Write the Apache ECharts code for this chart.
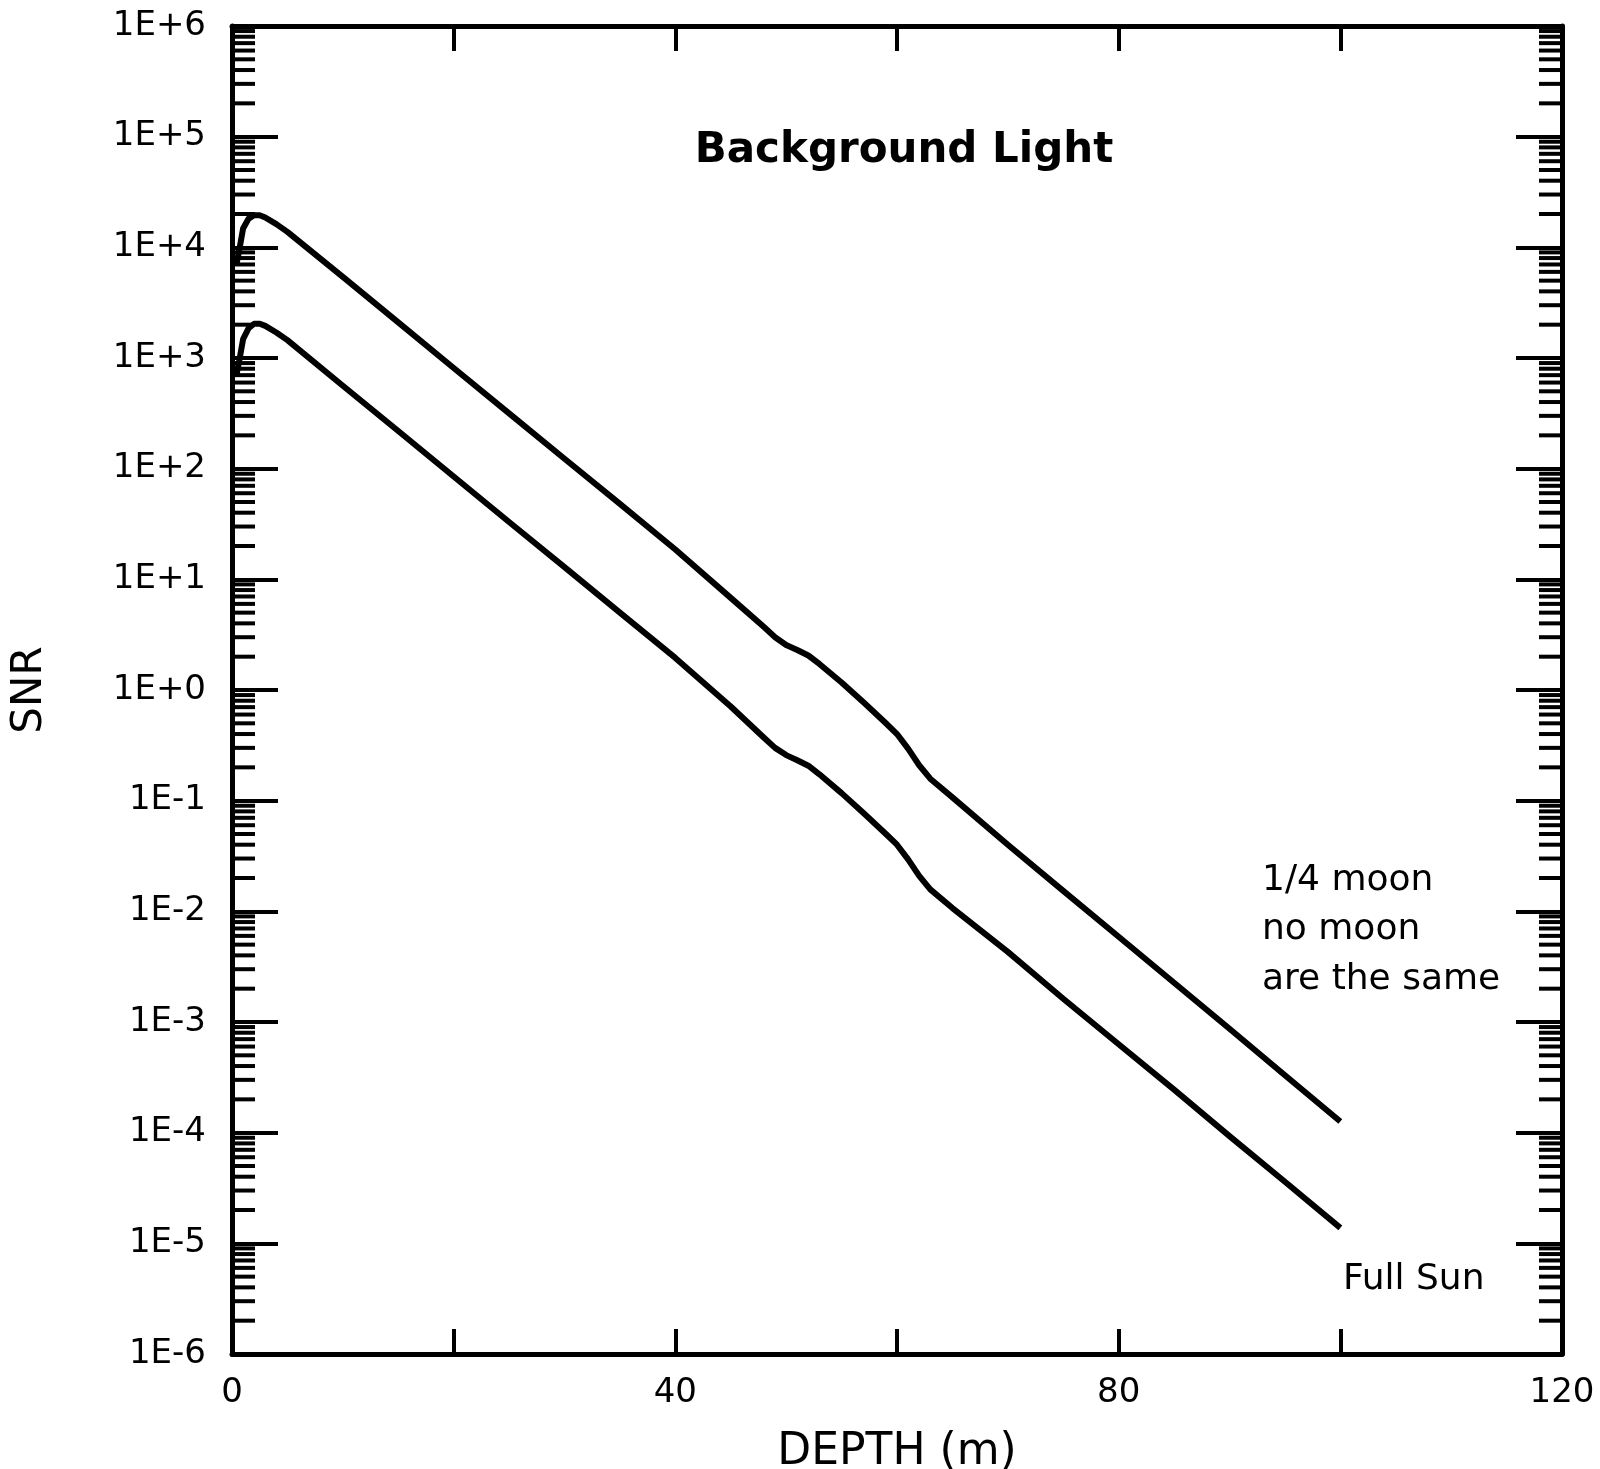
<!DOCTYPE html>
<html>
<head>
<meta charset="utf-8">
<title>Background Light</title>
<script src="https://cdn.jsdelivr.net/npm/echarts@6/dist/echarts.min.js"></script>
<style>
  html, body { margin: 0; padding: 0; background: #fff; }
  #chart { width: 1600px; height: 1469px; }
</style>
</head>
<body>
<div id="chart"></div>
<script>
// Depth samples (m) for both curves
const depth = [0.4, 0.7, 1, 1.5, 2, 2.5, 3, 4, 5, 10, 15, 20, 25, 30, 35, 40, 45, 48, 49, 50,
  51, 52, 53, 55, 57, 59, 60, 61, 62, 63, 65, 70, 75, 80, 85, 90, 95, 100];

// SNR with 1/4 moon or no moon (both identical)
const snrMoon = [7.0e3, 1.0e4, 1.48e4, 1.82e4, 1.95e4, 1.95e4, 1.86e4, 1.62e4, 1.38e4, 5.4e3,
  2.1e3, 813, 316, 123, 48, 18.6, 6.8, 3.7, 3.0, 2.55,
  2.3, 2.05, 1.72, 1.17, 0.77, 0.50, 0.40, 0.295, 0.209, 0.158, 0.107,
  0.040, 0.0153, 5.9e-3, 2.26e-3, 8.7e-4, 3.3e-4, 1.26e-4];

// SNR in full sun
const snrSun = [700, 1000, 1480, 1860, 2040, 2040, 1950, 1700, 1450, 562,
  219, 85, 33, 12.9, 5.0, 1.95, 0.71, 0.37, 0.30, 0.258,
  0.232, 0.207, 0.173, 0.117, 0.077, 0.050, 0.040, 0.0295, 0.0209, 0.0158, 0.0107,
  4.3e-3, 1.62e-3, 6.3e-4, 2.45e-4, 9.3e-5, 3.6e-5, 1.38e-5];

// Axis ranges and tick labels
const X_MIN = 0, X_MAX = 120, X_STEP = 20;
const X_LABELED = [0, 40, 80, 120];
const Y_MIN = 1e-6, Y_MAX = 1e6;
const Y_EXPONENTS = [-6, -5, -4, -3, -2, -1, 0, 1, 2, 3, 4, 5, 6];
const Y_TICK_LABELS = ['1E-6', '1E-5', '1E-4', '1E-3', '1E-2', '1E-1', '1E+0',
  '1E+1', '1E+2', '1E+3', '1E+4', '1E+5', '1E+6'];
const MINOR_MULTIPLES = [2, 3, 4, 5, 6, 7, 8, 9];

// Minor log ticks inside every decade
const minorTicks = [];
Y_EXPONENTS.slice(0, -1).forEach(function (e) {
  MINOR_MULTIPLES.forEach(function (m) { minorTicks.push([0, m * Math.pow(10, e)]); });
});

const FONT = '"DejaVu Sans", "Liberation Sans", sans-serif';
const MAJOR_LEN = 46, MINOR_LEN = 23, X_TICK_LEN = 25;

function pairs(xs, ys) { return xs.map(function (x, i) { return [x, ys[i]]; }); }

function yLabel(value) {
  const e = Math.round(Math.log10(value));
  const i = Y_EXPONENTS.indexOf(e);
  return i >= 0 ? Y_TICK_LABELS[i] : '';
}

const chart = echarts.init(document.getElementById('chart'), null, { renderer: 'canvas' });

const baseX = {
  type: 'value', min: X_MIN, max: X_MAX, interval: X_STEP,
  splitLine: { show: false },
  axisLine: { onZero: false, lineStyle: { color: '#000', width: 5 } }
};
const baseY = {
  type: 'log', logBase: 10, min: Y_MIN, max: Y_MAX, interval: 1,
  splitLine: { show: false }, minorTick: { show: false },
  axisLine: { onZero: false, lineStyle: { color: '#000', width: 5 } }
};

chart.setOption({
  animation: false,
  backgroundColor: '#fff',
  grid: { left: 232, right: 38, top: 26, bottom: 115, containLabel: false, outerBoundsMode: 'none' },
  xAxis: [
    Object.assign({}, baseX, {
      position: 'bottom',
      name: 'DEPTH (m)', nameLocation: 'middle', nameGap: 77,
      nameTextStyle: { fontFamily: FONT, fontSize: 44, color: '#000' },
      axisTick: { inside: true, length: X_TICK_LEN, lineStyle: { color: '#000', width: 4 } },
      axisLabel: {
        margin: 22, fontFamily: FONT, fontSize: 34, color: '#000',
        formatter: function (v) { return X_LABELED.indexOf(v) >= 0 ? String(v) : ''; }
      }
    }),
    Object.assign({}, baseX, {
      position: 'top',
      axisTick: { inside: true, length: X_TICK_LEN, lineStyle: { color: '#000', width: 4 } },
      axisLabel: { show: false }
    })
  ],
  yAxis: [
    Object.assign({}, baseY, {
      position: 'left',
      name: 'SNR', nameLocation: 'middle', nameGap: 181, nameRotate: 90,
      nameTextStyle: { fontFamily: FONT, fontSize: 42, color: '#000' },
      axisTick: { inside: true, length: MAJOR_LEN, lineStyle: { color: '#000', width: 4 } },
      axisLabel: { margin: 26, fontFamily: FONT, fontSize: 34, color: '#000', formatter: yLabel }
    }),
    Object.assign({}, baseY, {
      position: 'right',
      axisTick: { inside: true, length: MAJOR_LEN, lineStyle: { color: '#000', width: 4 } },
      axisLabel: { show: false }
    })
  ],
  series: [
    {
      name: '1/4 moon, no moon', type: 'line', xAxisIndex: 0, yAxisIndex: 0,
      data: pairs(depth, snrMoon), showSymbol: false, smooth: false,
      lineStyle: { color: '#000', width: 6, cap: 'butt', join: 'round' }, z: 3
    },
    {
      name: 'Full Sun', type: 'line', xAxisIndex: 0, yAxisIndex: 0,
      data: pairs(depth, snrSun), showSymbol: false, smooth: false,
      lineStyle: { color: '#000', width: 6, cap: 'butt', join: 'round' }, z: 3
    },
    {
      name: 'minor ticks', type: 'custom', xAxisIndex: 0, yAxisIndex: 0,
      data: minorTicks, silent: true, clip: false, z: 4,
      renderItem: function (params, api) {
        const v = api.value(1);
        const y = api.coord([X_MIN, v])[1];
        const xl = api.coord([X_MIN, v])[0];
        const xr = api.coord([X_MAX, v])[0];
        const st = { stroke: '#000', lineWidth: 4 };
        return {
          type: 'group',
          children: [
            { type: 'line', shape: { x1: xl, y1: y, x2: xl + MINOR_LEN, y2: y }, style: st },
            { type: 'line', shape: { x1: xr - MINOR_LEN, y1: y, x2: xr, y2: y }, style: st }
          ]
        };
      }
    }
  ],
  graphic: [
    { type: 'text', x: 904, y: 151, style: { text: 'Background Light', font: 'bold 42px ' + FONT, fill: '#000', textAlign: 'center', textVerticalAlign: 'middle' } },
    { type: 'text', x: 1262, y: 881, style: { text: '1/4 moon', font: '36px ' + FONT, fill: '#000', textAlign: 'left', textVerticalAlign: 'middle' } },
    { type: 'text', x: 1262, y: 930, style: { text: 'no moon', font: '36px ' + FONT, fill: '#000', textAlign: 'left', textVerticalAlign: 'middle' } },
    { type: 'text', x: 1262, y: 980, style: { text: 'are the same', font: '36px ' + FONT, fill: '#000', textAlign: 'left', textVerticalAlign: 'middle' } },
    { type: 'text', x: 1343, y: 1280, style: { text: 'Full Sun', font: '36px ' + FONT, fill: '#000', textAlign: 'left', textVerticalAlign: 'middle' } }
  ]
});
</script>
</body>
</html>
